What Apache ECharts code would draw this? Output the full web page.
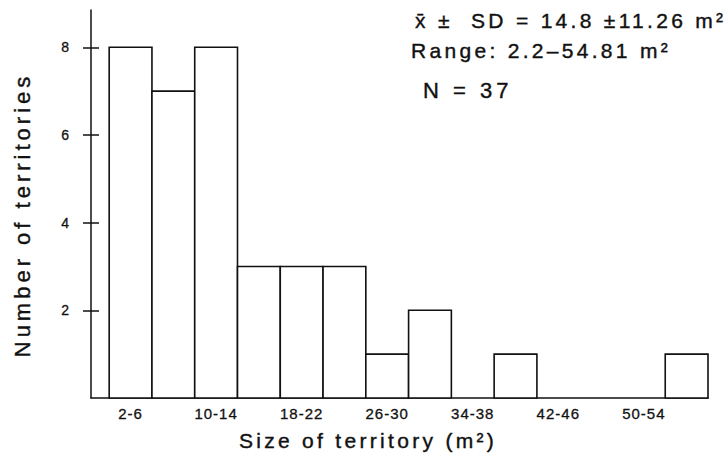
<!DOCTYPE html>
<html>
<head>
<meta charset="utf-8">
<style>
html,body{margin:0;padding:0;background:#fff}
#c{width:726px;height:464px}
#c text[style*="21px"]{letter-spacing:3.3px}
#c text[style*="22px"]{letter-spacing:4px}
#c text[style*="15px"]{letter-spacing:1px}
</style>
<script src="https://cdn.jsdelivr.net/npm/echarts@6/dist/echarts.min.js"></script>
</head>
<body>
<div id="c"></div>
<script>
// Bins (m^2) and counts
const binLabels = ['2-6','6-10','10-14','14-18','18-22','22-26','26-30','30-34','34-38','38-42','42-46','46-50','50-54','54-58'];
const counts    = [8, 7, 8, 3, 3, 3, 1, 2, 0, 1, 0, 0, 0, 1];
const yTicks    = [2, 4, 6, 8];
const shownLabels = ['2-6','10-14','18-22','26-30','34-38','42-46','50-54'];
const statLines = ['x\u0304 \u00B1  SD = 14.8 \u00B111.26 m\u00B2', 'Range: 2.2\u201354.81 m\u00B2', 'N = 37'];

const bins = binLabels.map((s, i) => {
  const [lo, hi] = s.split('-').map(Number);
  return [lo, hi, counts[i]];
});
const labelCenters = shownLabels.map(s => { const [a, b] = s.split('-').map(Number); return (a + b) / 2; });

const FONT = 'Liberation Sans';
const statPos = [[415, 20, 21], [411, 50, 21], [423, 90, 22]];
const INK = '#111';

const chart = echarts.init(document.getElementById('c'), null, {renderer: 'svg'});
chart.setOption({
  backgroundColor: '#fff',
  animation: false,
  grid: {left: 91, right: 18, top: 10, bottom: 66, containLabel: false},
  xAxis: {
    type: 'value', min: 0.3, max: 58,
    splitLine: {show: false},
    axisLine: {show: true, lineStyle: {color: INK, width: 1.5}},
    axisTick: {show: false},
    axisLabel: {
      customValues: labelCenters,
      formatter: v => { const i = labelCenters.findIndex(c => Math.abs(c - v) < 1e-6); return i >= 0 ? shownLabels[i] : ''; },
      color: INK, fontFamily: FONT, fontSize: 15, margin: 8, textBorderColor: INK, textBorderWidth: 0.3
    },
    name: 'Size of territory (m\u00B2)', nameLocation: 'middle', nameGap: 32,
    nameTextStyle: {color: INK, fontFamily: FONT, fontSize: 21, padding: [0, 63, 0, 0], textBorderColor: INK, textBorderWidth: 0.4}
  },
  yAxis: [{
    type: 'value', min: 0, max: 8.85, interval: 2,
    splitLine: {show: false},
    axisLine: {show: true, lineStyle: {color: INK, width: 1.5}},
    axisTick: {show: true, customValues: yTicks, length: 8, inside: false, lineStyle: {color: INK, width: 1.5}},
    axisLabel: {customValues: yTicks, color: INK, fontFamily: FONT, fontSize: 14, margin: 22, padding: [0, 0, 4, 0], textBorderColor: INK, textBorderWidth: 0.3},
    name: 'Number of territories', nameLocation: 'middle', nameGap: 58,
    nameTextStyle: {color: INK, fontFamily: FONT, fontSize: 22, padding: [0, 22, 0, 0], textBorderColor: INK, textBorderWidth: 0.4}
  }, {
    type: 'value', min: 0, max: 8.85, interval: 2, position: 'left',
    splitLine: {show: false},
    axisLine: {show: false},
    axisTick: {show: true, customValues: yTicks, length: 8, inside: true, lineStyle: {color: INK, width: 1.5}},
    axisLabel: {show: false}
  }],
  graphic: statLines.map((t, i) => ({
    type: 'text', x: statPos[i][0], y: statPos[i][1],
    style: {text: t, fill: INK, font: statPos[i][2] + 'px "' + FONT + '"', textVerticalAlign: 'middle', stroke: INK, lineWidth: 0.4}
  })),
  series: [{
    type: 'custom',
    data: bins,
    encode: {x: [0, 1], y: 2},
    renderItem: (params, api) => {
      const lo = api.value(0), hi = api.value(1), n = api.value(2);
      if (!n) return null;
      const p1 = api.coord([lo, n]);
      const p2 = api.coord([hi, 0]);
      return {
        type: 'rect',
        shape: {x: p1[0], y: p1[1], width: p2[0] - p1[0], height: p2[1] - p1[1]},
        style: {fill: '#fff', stroke: INK, lineWidth: 1.6}
      };
    }
  }]
});
</script>
</body>
</html>
